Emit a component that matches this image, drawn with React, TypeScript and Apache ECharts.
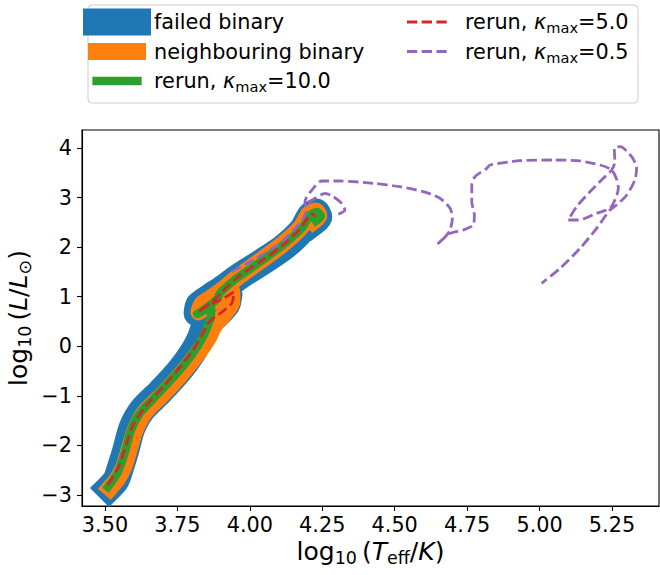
import React, { useEffect, useRef } from "react";
import * as echarts from "echarts";

const FONT = '"DejaVu Sans", sans-serif';

const xTickValues = [3.5, 3.75, 4.0, 4.25, 4.5, 4.75, 5.0, 5.25];
const yTickValues = [-3, -2, -1, 0, 1, 2, 3, 4];
const X_MIN = 3.4206;
const X_MAX = 5.4123;
const Y_MIN = -3.222;
const Y_MAX = 4.363;

const failedBinary = [
  [3.514, -2.859], [3.538, -2.698], [3.555, -2.415], [3.572, -2.092], [3.593, -1.649],
  [3.628, -1.285], [3.69, -0.922], [3.759, -0.479], [3.804, -0.115], [3.831, 0.187],
  [3.845, 0.409], [3.883, 0.611], [3.921, 0.853], [3.928, 1.055], [3.89, 0.974],
  [3.845, 0.792], [3.818, 0.671], [3.824, 0.833], [3.862, 0.994], [3.904, 1.156],
  [3.966, 1.418], [4.042, 1.7], [4.118, 2.003], [4.18, 2.346],
  [4.208, 2.628], [4.228, 2.709], [4.238, 2.608], [4.221, 2.507],
];

const neighbouringBinary = [
  [3.517, -2.859], [3.545, -2.657], [3.566, -2.415], [3.583, -2.092], [3.604, -1.689],
  [3.638, -1.326], [3.7, -0.963], [3.769, -0.519], [3.821, -0.136], [3.856, 0.167],
  [3.876, 0.409], [3.911, 0.651], [3.938, 0.893], [3.938, 1.095], [3.904, 1.014],
  [3.849, 0.813], [3.824, 0.692], [3.835, 0.853], [3.876, 1.014], [3.904, 1.135],
  [3.959, 1.398], [4.035, 1.72], [4.114, 2.063], [4.177, 2.406], [4.204, 2.669],
  [4.228, 2.729], [4.238, 2.628], [4.221, 2.527],
];

const rerunKappa10 = [
  [3.51, -2.839], [3.545, -2.536], [3.569, -2.133], [3.59, -1.689], [3.621, -1.346],
  [3.679, -0.983], [3.749, -0.539], [3.804, -0.136], [3.838, 0.187], [3.856, 0.429],
  [3.866, 0.611], [3.866, 0.792], [3.818, 0.651], [3.849, 0.772], [3.887, 0.954],
  [3.897, 1.075], [3.956, 1.377], [4.035, 1.7], [4.114, 2.043], [4.18, 2.386],
  [4.208, 2.648], [4.232, 2.709], [4.246, 2.628], [4.228, 2.527],
];

const rerunKappa5 = [
  [3.51, -2.798], [3.545, -2.455], [3.572, -2.012], [3.597, -1.588], [3.638, -1.225],
  [3.7, -0.821], [3.759, -0.418], [3.804, -0.075], [3.838, 0.268], [3.859, 0.49],
  [3.904, 0.692], [3.938, 0.873], [3.945, 1.095], [3.911, 0.974], [3.852, 0.813],
  [3.821, 0.692], [3.876, 0.934], [3.904, 1.095], [3.959, 1.398], [4.035, 1.7],
  [4.111, 2.023], [4.173, 2.366], [4.204, 2.628], [4.218, 2.669], [4.225, 2.608],
];

const rerunKappa05 = [
  [3.937, 1.505], [4.012, 1.741], [4.104, 2.077], [4.173, 2.481], [4.196, 2.749],
  [4.19, 2.917], [4.219, 3.187], [4.248, 3.334], [4.311, 3.334], [4.426, 3.288],
  [4.518, 3.219], [4.599, 3.118], [4.656, 2.985], [4.691, 2.784], [4.699, 2.582],
  [4.691, 2.346], [4.674, 2.205], [4.651, 2.077], [4.691, 2.279], [4.737, 2.346],
  [4.771, 2.447], [4.775, 2.648], [4.766, 2.917], [4.766, 3.254], [4.777, 3.421],
  [4.818, 3.59], [4.829, 3.657], [4.933, 3.744], [5.048, 3.758], [5.14, 3.738],
  [5.209, 3.657], [5.249, 3.556], [5.267, 3.354], [5.272, 3.187], [5.26, 2.951],
  [5.243, 2.784], [5.197, 2.683], [5.134, 2.547], [5.099, 2.547], [5.128, 2.816],
  [5.174, 3.118], [5.22, 3.389], [5.249, 3.556], [5.26, 3.724], [5.258, 3.994],
  [5.278, 4.026], [5.318, 3.824], [5.335, 3.59], [5.329, 3.354], [5.301, 3.052],
  [5.266, 2.85], [5.243, 2.749], [5.197, 2.38], [5.14, 1.977], [5.071, 1.573],
  [5.007, 1.271],
];

const rerunKappa05Hook = [
  [4.201, 2.89], [4.225, 2.985], [4.259, 3.086], [4.288, 3.018], [4.317, 2.884],
  [4.328, 2.749], [4.305, 2.663],
];

const kappaLabels = ["10.0", "5.0", "0.5"];
const colors = {
  blue: "#1f77b4",
  orange: "#ff7f0e",
  green: "#2ca02c",
  red: "#d62728",
  purple: "#9467bd",
};

const LEG_FS = 20.8;
const richSmall = {
  i: { fontSize: LEG_FS, fontFamily: FONT, fontStyle: "italic", lineHeight: 26, fill: "#000", color: "#000" },
  s: { fontSize: 14.6, fontFamily: FONT, lineHeight: 14, verticalAlign: "bottom", fill: "#000", color: "#000" },
  n: { fontSize: LEG_FS, fontFamily: FONT, lineHeight: 26, fill: "#000", color: "#000" },
};

const kappaText = (k: string) => `{n|rerun, }{i|κ}{s|max}{n|=${k}}`;

function solidSeries(name: string, data: number[][], color: string, width: number) {
  return {
    type: "line",
    name,
    data,
    symbol: "none",
    smooth: 0.25,
    silent: true,
    lineStyle: { color, width, cap: "square", join: "round" },
  };
}

function dashedSeries(name: string, data: number[][], color: string) {
  return {
    type: "line",
    name,
    data,
    symbol: "none",
    smooth: 0.25,
    silent: true,
    lineStyle: { color, width: 2.8, type: [10.3, 4.4], cap: "butt", join: "round" },
  };
}

const AX_FS = 25;
const axisRich = {
  a: { fontSize: AX_FS, fontFamily: FONT, lineHeight: 32, color: "#000" },
  i: { fontSize: AX_FS, fontFamily: FONT, fontStyle: "italic", lineHeight: 32, color: "#000" },
  s: { fontSize: 17.5, fontFamily: FONT, lineHeight: 18, verticalAlign: "bottom", color: "#000" },
};

const rowY = [22, 51.5, 81];

function legendGraphics() {
  const els: any[] = [];
  els.push({
    type: "rect",
    shape: { x: 88, y: 5, width: 550, height: 98, r: 4 },
    style: { fill: "rgba(255,255,255,0.8)", stroke: "#cccccc", lineWidth: 1 },
    z: 10,
  });
  const col1 = [
    { color: colors.blue, w: 27, text: "{n|failed binary}" },
    { color: colors.orange, w: 17, text: "{n|neighbouring binary}" },
    { color: colors.green, w: 8.3, text: kappaText(kappaLabels[0]) },
  ];
  col1.forEach((c, k) => {
    els.push({
      type: "line",
      shape: { x1: 96.5, y1: rowY[k], x2: 137.5, y2: rowY[k] },
      style: { stroke: c.color, lineWidth: c.w, lineCap: "square" },
      z: 11,
    });
    els.push({
      type: "text",
      x: 154,
      y: rowY[k],
      style: { text: c.text, rich: richSmall, verticalAlign: "middle", align: "left", fill: "#000" },
      z: 11,
    });
  });
  const col2 = [
    { color: colors.red, text: kappaText(kappaLabels[1]) },
    { color: colors.purple, text: kappaText(kappaLabels[2]) },
  ];
  col2.forEach((c, k) => {
    els.push({
      type: "line",
      shape: { x1: 407, y1: rowY[k], x2: 449, y2: rowY[k] },
      style: { stroke: c.color, lineWidth: 2.8, lineDash: [10.3, 4.4], lineCap: "butt" },
      z: 11,
    });
    els.push({
      type: "text",
      x: 465,
      y: rowY[k],
      style: { text: c.text, rich: richSmall, verticalAlign: "middle", align: "left", fill: "#000" },
      z: 11,
    });
  });
  return els;
}

const fmtY = (v: number) => (v < 0 ? "\u2212" + Math.abs(v) : String(v));

export default function App() {
  const ref = useRef<HTMLDivElement>(null);
  useEffect(() => {
    if (!ref.current) return;
    const chart = echarts.init(ref.current, null, { renderer: "svg" });
    const option: any = {
      animation: false,
      backgroundColor: "#ffffff",
      grid: {
        left: 82,
        right: 1,
        top: 130,
        bottom: 69,
        containLabel: false,
        outerBoundsMode: "none",
        show: true,
        borderColor: "#000",
        borderWidth: 1.1,
        backgroundColor: "transparent",
      },
      xAxis: {
        type: "value",
        min: X_MIN,
        max: X_MAX,
        splitLine: { show: false },
        axisLine: { show: true, onZero: false, lineStyle: { color: "#000", width: 1.1 } },
        axisTick: { show: true, customValues: xTickValues, length: 5, lineStyle: { color: "#000", width: 1.1 } },
        axisLabel: {
          customValues: xTickValues,
          formatter: (v: number) => v.toFixed(2),
          fontSize: LEG_FS,
          fontFamily: FONT,
          color: "#000",
          margin: 8,
        },
        name: "{a|log}{s|10}{a|\u2009(}{i|T}{s|eff}{a|/}{i|K}{a|)}",
        nameLocation: "middle",
        nameGap: 29,
        nameMoveOverlap: false,
        nameTextStyle: { rich: axisRich, fontSize: AX_FS, fontFamily: FONT, color: "#000" },
      },
      yAxis: {
        type: "value",
        min: Y_MIN,
        max: Y_MAX,
        splitLine: { show: false },
        axisLine: { show: true, onZero: false, lineStyle: { color: "#000", width: 1.1 } },
        axisTick: { show: true, customValues: yTickValues, length: 5, lineStyle: { color: "#000", width: 1.1 } },
        axisLabel: {
          customValues: yTickValues,
          formatter: fmtY,
          fontSize: LEG_FS,
          fontFamily: FONT,
          color: "#000",
          margin: 10,
        },
        name: "{a|log}{s|10}{a|\u2009(}{i|L}{a|/}{i|L}{s|⊙}{a|)}",
        nameLocation: "middle",
        nameGap: 48,
        nameMoveOverlap: false,
        nameTextStyle: { rich: axisRich, fontSize: AX_FS, fontFamily: FONT, color: "#000" },
      },
      series: [
        solidSeries("failed binary", failedBinary, colors.blue, 27),
        solidSeries("neighbouring binary", neighbouringBinary, colors.orange, 17),
        solidSeries("rerun, κmax=10.0", rerunKappa10, colors.green, 8.3),
        dashedSeries("rerun, κmax=5.0", rerunKappa5, colors.red),
        dashedSeries("rerun, κmax=0.5", rerunKappa05, colors.purple),
        dashedSeries("rerun, κmax=0.5 (hook)", rerunKappa05Hook, colors.purple),
      ],
      graphic: legendGraphics(),
    };
    chart.setOption(option);
    return () => chart.dispose();
  }, []);
  return <div ref={ref} style={{ position: "fixed", left: 0, top: 0, width: 660, height: 575 }} />;
}
